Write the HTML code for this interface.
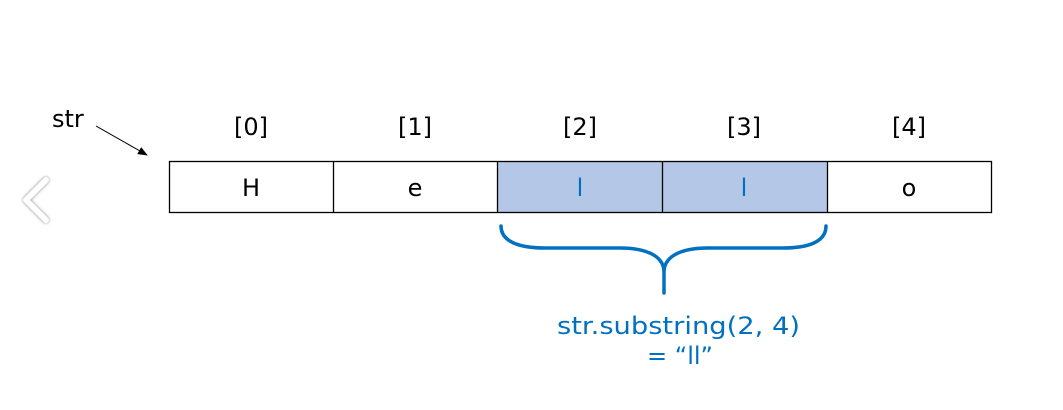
<!DOCTYPE html>
<html><head><meta charset="utf-8"><style>
html,body{margin:0;padding:0;background:#fff;width:1063px;height:410px;overflow:hidden}
svg text{font-family:"DejaVu Sans","Liberation Sans",sans-serif}
</style></head><body>
<svg width="1063" height="410" viewBox="0 0 1063 410" xmlns="http://www.w3.org/2000/svg">
<defs>
<filter id="sh" x="-50%" y="-50%" width="200%" height="200%"><feDropShadow dx="0" dy="0" stdDeviation="1.6" flood-color="#000" flood-opacity="0.55"/></filter>
<marker id="ah" markerWidth="10" markerHeight="8" refX="9" refY="4" orient="auto" markerUnits="userSpaceOnUse"><path d="M0,0 L10,4 L0,8 z" fill="#000"/></marker>
</defs>
<polyline points="46,180 26,200 46,220" fill="none" stroke="#fff" stroke-width="5.5" stroke-linecap="round" stroke-linejoin="round" filter="url(#sh)"/>
<text x="52" y="127" font-size="24" fill="#000">str</text>
<line x1="96" y1="126" x2="147" y2="155" stroke="#000" stroke-width="1" marker-end="url(#ah)"/>
<g font-size="24" text-anchor="middle" fill="#000">
<text x="251" y="135">[0]</text>
<text x="415" y="135">[1]</text>
<text x="580" y="135">[2]</text>
<text x="744" y="135">[3]</text>
<text x="909" y="135">[4]</text>
</g>
<rect x="497.5" y="161.5" width="330" height="51" fill="#b4c7e7"/>
<rect x="169.5" y="161.5" width="822" height="51" fill="none" stroke="#000" stroke-width="1.3"/>
<g stroke="#000" stroke-width="1.3">
<line x1="333.5" y1="161.5" x2="333.5" y2="212.5"/>
<line x1="497.5" y1="161.5" x2="497.5" y2="212.5"/>
<line x1="662.5" y1="161.5" x2="662.5" y2="212.5"/>
<line x1="827.5" y1="161.5" x2="827.5" y2="212.5"/>
</g>
<g font-size="24" text-anchor="middle">
<text x="251" y="196" fill="#000">H</text>
<text x="415" y="196" fill="#000">e</text>
<text x="580" y="196" fill="#0070c0">l</text>
<text x="744" y="196" fill="#0070c0">l</text>
<text x="909" y="196" fill="#000">o</text>
</g>
<path d="M501,226 C501,242 520,248 545,248 L620,248 C650,248 664,258 664,272 L664,293 M664,272 C664,258 678,248 708,248 L783,248 C808,248 826,242 826,226" fill="none" stroke="#0070c0" stroke-width="3.5" stroke-linecap="round"/>
<g font-size="24" fill="#0070c0">
<text x="557" y="334" textLength="243" lengthAdjust="spacingAndGlyphs">str.substring(2, 4)</text>
<text x="680" y="364" text-anchor="middle">= “ll”</text>
</g>
</svg>
</body></html>
